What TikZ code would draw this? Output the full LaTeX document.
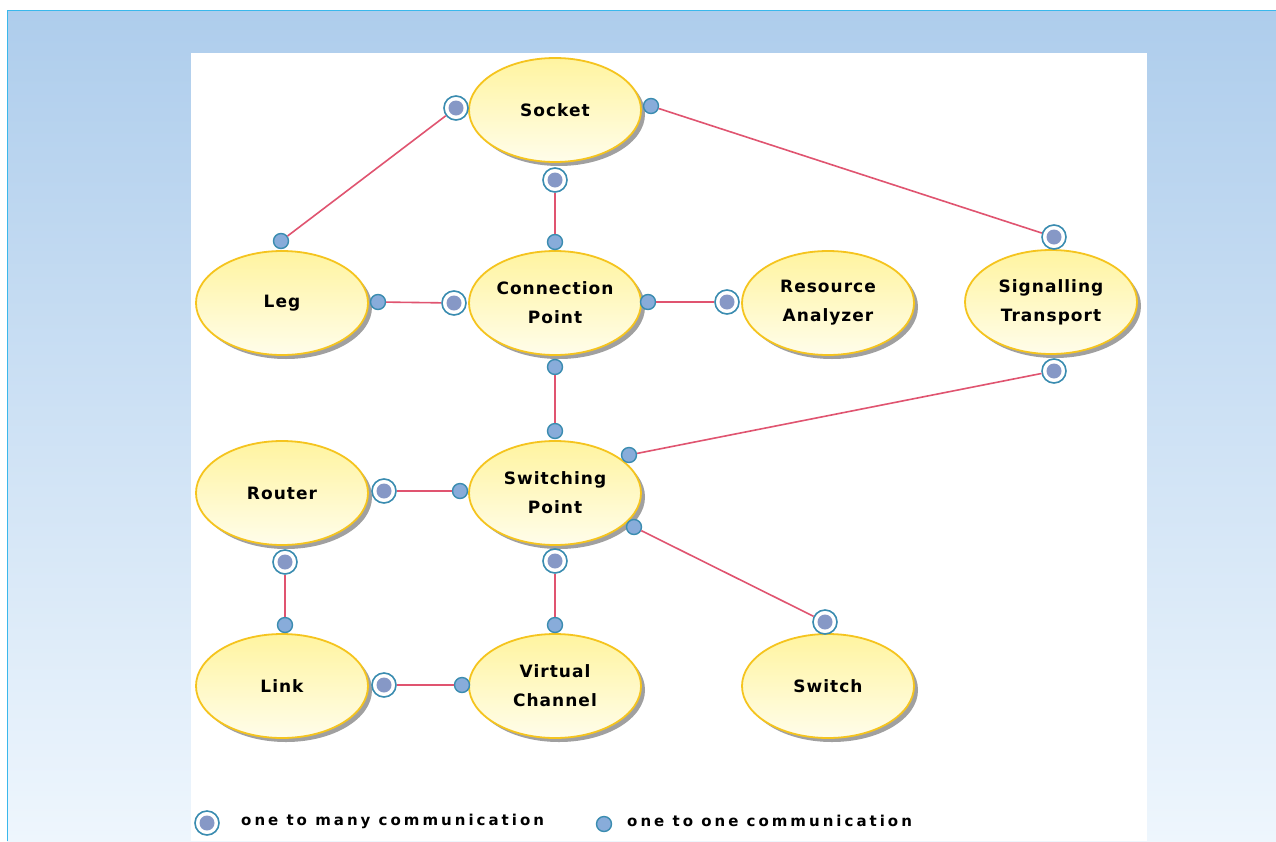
\documentclass[tikz,border=0pt]{standalone}
\usepackage{fontspec}
\setmainfont{DejaVu Sans}
\newfontfamily\labelfont[LetterSpace=6]{DejaVu Sans Bold}
\newfontfamily\legendfont[LetterSpace=20]{DejaVu Sans Bold}
\usetikzlibrary{shapes.geometric,shadows}

\definecolor{bgtop}{RGB}{174,205,236}
\definecolor{bgbottom}{RGB}{238,246,253}
\definecolor{frameline}{RGB}{58,184,236}
\definecolor{ovaltop}{RGB}{255,244,160}
\definecolor{ovalbottom}{RGB}{255,253,234}
\definecolor{ovalrim}{RGB}{245,196,30}
\definecolor{shadowgrey}{RGB}{160,160,160}
\definecolor{linkred}{RGB}{224,84,112}
\definecolor{markrim}{RGB}{58,140,176}
\definecolor{manyfill}{RGB}{134,152,198}
\definecolor{onefill}{RGB}{136,172,218}

\tikzset{
  oval/.style={ellipse, minimum width=172pt, minimum height=104pt, inner sep=0pt,
    draw=ovalrim, line width=1.8pt, top color=ovaltop, bottom color=ovalbottom,
    align=center, font=\labelfont\fontsize{17}{29}\selectfont,
    drop shadow={shadow xshift=4pt, shadow yshift=-4pt, fill=shadowgrey, opacity=1}},
  manymark/.style={circle, draw=markrim, line width=1.6pt, fill=white,
    minimum size=24pt, inner sep=0pt,
    path picture={\fill[manyfill] (path picture bounding box.center) circle (7.5pt);}},
  onemark/.style={circle, draw=markrim, line width=1.4pt, fill=onefill,
    minimum size=15pt, inner sep=0pt},
  link/.style={draw=linkred, line width=1.6pt},
  legendtext/.style={anchor=west, inner sep=0pt, font=\legendfont\fontsize{15}{17}\selectfont}
}

\begin{document}
\begin{tikzpicture}[x=1pt, y=-1pt]
\useasboundingbox (0,0) rectangle (1276,841);
% page backdrop with frame lines
\fill[white] (0,0) rectangle (1276,841);
\shade[top color=bgtop, bottom color=bgbottom] (7,10) rectangle (1276,841);
\draw[frameline, line width=1.5pt] (7.5,841) -- (7.5,10.5) -- (1276,10.5);
\fill[white] (191,53) rectangle (1147,841);

% classes
\node[oval] (socket)  at (555,110) {Socket};
\node[oval] (leg)     at (282,303) {Leg};
\node[oval] (cpoint)  at (555,303) {Connection\\Point};
\node[oval] (ranal)   at (828,303) {Resource\\Analyzer};
\node[oval] (sigtr)   at (1051,302) {Signalling\\Transport};
\node[oval] (router)  at (282,493) {Router};
\node[oval] (spoint)  at (555,493) {Switching\\Point};
\node[oval] (link)    at (282,686) {Link};
\node[oval] (vchan)   at (555,686) {Virtual\\Channel};
\node[oval] (switch)  at (828,686) {Switch};

% association end markers
\node[manymark] (socL)  at (456,108) {};
\node[onemark]  (legT)  at (281,241) {};
\node[onemark]  (socR)  at (651,106) {};
\node[manymark] (sigT)  at (1054,237) {};
\node[manymark] (socB)  at (555,180) {};
\node[onemark]  (cpT)   at (555,242) {};
\node[onemark]  (legR)  at (378,302) {};
\node[manymark] (cpL)   at (454,303) {};
\node[onemark]  (cpR)   at (648,302) {};
\node[manymark] (raL)   at (727,302) {};
\node[onemark]  (cpB)   at (555,367) {};
\node[onemark]  (spT)   at (555,431) {};
\node[manymark] (sigB)  at (1054,371) {};
\node[onemark]  (spUR)  at (629,455) {};
\node[manymark] (rtR)   at (384,491) {};
\node[onemark]  (spL)   at (460,491) {};
\node[onemark]  (spLR)  at (634,527) {};
\node[manymark] (swT)   at (825,622) {};
\node[manymark] (rtB)   at (285,562) {};
\node[onemark]  (lkT)   at (285,625) {};
\node[manymark] (spB)   at (555,561) {};
\node[onemark]  (vcT)   at (555,625) {};
\node[manymark] (lkR)   at (384,685) {};
\node[onemark]  (vcL)   at (462,685) {};

% associations
\draw[link] (socL) -- (legT);
\draw[link] (socR) -- (sigT);
\draw[link] (socB) -- (cpT);
\draw[link] (legR) -- (cpL);
\draw[link] (cpR)  -- (raL);
\draw[link] (cpB)  -- (spT);
\draw[link] (sigB) -- (spUR);
\draw[link] (rtR)  -- (spL);
\draw[link] (spLR) -- (swT);
\draw[link] (rtB)  -- (lkT);
\draw[link] (spB)  -- (vcT);
\draw[link] (lkR)  -- (vcL);

% legend
\node[manymark] (keymany) at (207,823) {};
\node[legendtext] (keymanytxt) at (241,821) {one to many communication};
\node[onemark] (keyone) at (604,824) {};
\node[legendtext] (keyonetxt) at (627,821) {one to one communication};
\end{tikzpicture}
\end{document}
